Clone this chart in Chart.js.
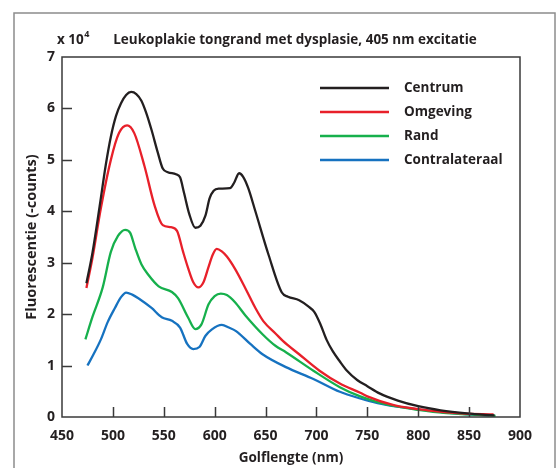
<!DOCTYPE html>
<html>
<head>
<meta charset="utf-8">
<script src="https://cdn.jsdelivr.net/npm/chart.js@4.4.0/dist/chart.umd.min.js"></script>
<style>
  html, body { margin: 0; padding: 0; background: #fff; }
  #wrap { position: relative; width: 558px; height: 468px; }
</style>
</head>
<body>
<div id="wrap"><canvas id="spectrum" width="558" height="468"></canvas></div>
<script>
// golflengte (nm) + fluorescentie (x 10^4 counts)
const centrumNm  = [474, 480, 487, 493, 498, 503, 508, 513, 518, 523, 528, 533, 538, 544, 549, 554, 562, 566, 570, 575, 581, 586, 591, 595, 599, 604, 615, 619, 624, 628, 633, 640, 653, 666, 672, 683, 692, 698, 704, 710, 716, 723, 730, 740, 750, 762, 780, 800, 822, 848, 875];
const centrumVal = [2.60, 3.20, 4.10, 4.90, 5.45, 5.85, 6.10, 6.26, 6.32, 6.28, 6.15, 5.90, 5.58, 5.15, 4.83, 4.76, 4.72, 4.66, 4.35, 3.95, 3.68, 3.72, 3.92, 4.25, 4.40, 4.44, 4.45, 4.55, 4.74, 4.67, 4.45, 4.00, 3.15, 2.42, 2.34, 2.27, 2.15, 2.04, 1.80, 1.50, 1.28, 1.08, 0.90, 0.72, 0.60, 0.46, 0.32, 0.21, 0.13, 0.07, 0.03];

const omgevingNm  = [474, 480, 488, 498, 506, 514, 521, 531, 541, 549, 557, 563, 569, 574, 579, 584, 589, 594, 598, 602, 607, 612, 620, 630, 640, 648, 660, 667, 683, 703, 723, 743, 750, 776, 809, 842, 874];
const omgevingVal = [2.51, 3.10, 4.04, 5.00, 5.52, 5.67, 5.52, 4.88, 4.11, 3.73, 3.69, 3.62, 3.21, 2.89, 2.62, 2.52, 2.62, 2.92, 3.15, 3.27, 3.22, 3.12, 2.88, 2.51, 2.12, 1.86, 1.62, 1.48, 1.22, 0.90, 0.65, 0.47, 0.40, 0.23, 0.13, 0.07, 0.05];

const randNm  = [473, 480, 490, 498, 505, 512, 517, 522, 528, 535, 545, 558, 564, 574, 581, 587, 594, 600, 606, 612, 620, 630, 647, 660, 670, 697, 723, 743, 760, 780, 800, 825, 850, 876];
const randVal = [1.51, 1.95, 2.52, 3.21, 3.52, 3.64, 3.58, 3.28, 2.97, 2.76, 2.54, 2.43, 2.31, 1.93, 1.71, 1.80, 2.19, 2.35, 2.40, 2.37, 2.23, 1.98, 1.61, 1.38, 1.26, 0.90, 0.58, 0.40, 0.29, 0.20, 0.14, 0.08, 0.05, 0.02];

const contraNm  = [475, 481, 488, 495, 502, 508, 513, 519, 525, 538, 548, 558, 566, 573, 579, 585, 591, 597, 607, 614, 621, 635, 647, 670, 697, 723, 743, 760, 780, 800, 825, 850, 870];
const contraVal = [1.00, 1.22, 1.50, 1.85, 2.12, 2.33, 2.42, 2.38, 2.31, 2.12, 1.94, 1.87, 1.74, 1.42, 1.32, 1.36, 1.58, 1.70, 1.79, 1.74, 1.67, 1.42, 1.22, 0.97, 0.74, 0.49, 0.36, 0.27, 0.20, 0.15, 0.09, 0.05, 0.03];

const seriesNames  = ['Centrum', 'Omgeving', 'Rand', 'Contralateraal'];
const seriesColors = ['#231f20', '#e8202a', '#16b04c', '#1672c0'];

const xTickMarks = [500, 550, 600, 650, 700, 750, 800, 850];
const yTickMarks = [1, 2, 3, 4, 5, 6];

const FONT = "'Open Sans', 'Liberation Sans', sans-serif";

function toPoints(nm, val) {
  return nm.map((x, i) => ({ x, y: val[i] }));
}

// kader, binnenticks, legenda en titel
const decor = {
  id: 'decor',
  beforeDraw(chart) {
    const ctx = chart.ctx;
    ctx.save();
    ctx.fillStyle = '#fff';
    ctx.fillRect(0, 0, chart.width, chart.height);
    ctx.strokeStyle = '#8c8c8c';
    ctx.lineWidth = 1.5;
    ctx.strokeRect(14, 13, 541, 480);
    ctx.restore();
  },
  afterDatasetsDraw(chart) {
    const { ctx, chartArea: a, scales: { x, y } } = chart;
    ctx.save();
    ctx.strokeStyle = '#3a3a3a';
    ctx.lineWidth = 1.5;
    ctx.strokeRect(a.left, a.top, a.right - a.left, a.bottom - a.top);
    ctx.beginPath();
    xTickMarks.forEach(v => {
      const px = Math.round(x.getPixelForValue(v)) + 0.5;
      ctx.moveTo(px, a.bottom);
      ctx.lineTo(px, a.bottom - 10);
    });
    yTickMarks.forEach(v => {
      const py = Math.round(y.getPixelForValue(v)) + 0.5;
      ctx.moveTo(a.left, py);
      ctx.lineTo(a.left + 10, py);
    });
    ctx.stroke();

    // legenda
    ctx.font = `bold 13.5px ${FONT}`;
    ctx.textBaseline = 'middle';
    ctx.fillStyle = '#231f20';
    chart.data.datasets.forEach((ds, i) => {
      const ly = 88 + i * 24;
      ctx.strokeStyle = ds.borderColor;
      ctx.lineWidth = 2.6;
      ctx.beginPath();
      ctx.moveTo(320, ly);
      ctx.lineTo(389, ly);
      ctx.stroke();
      ctx.fillText(ds.label, 404, ly);
    });

    // titel
    ctx.textBaseline = 'alphabetic';
    ctx.font = `bold 13.5px ${FONT}`;
    ctx.textAlign = 'left';
    ctx.fillText('x 10', 57, 43.5);
    const w = ctx.measureText('x 10').width;
    ctx.font = `bold 9px ${FONT}`;
    ctx.fillText('4', 57 + w + 0.5, 37);
    ctx.font = `bold 13.5px ${FONT}`;
    ctx.textAlign = 'center';
    ctx.fillText('Leukoplakie tongrand met dysplasie, 405 nm excitatie', 295, 43.5);
    ctx.restore();
  }
};

const allNm  = [centrumNm, omgevingNm, randNm, contraNm];
const allVal = [centrumVal, omgevingVal, randVal, contraVal];

new Chart(document.getElementById('spectrum'), {
  type: 'line',
  data: {
    datasets: seriesNames.map((name, i) => ({
      label: name,
      data: toPoints(allNm[i], allVal[i]),
      borderColor: seriesColors[i],
      borderWidth: 2.3,
      pointRadius: 0,
      fill: false,
      cubicInterpolationMode: 'monotone'
    }))
  },
  options: {
    responsive: false,
    animation: false,
    devicePixelRatio: 1,
    layout: { padding: { top: 57, right: 38, left: 0, bottom: 0 } },
    plugins: {
      legend: { display: false },
      tooltip: { enabled: false }
    },
    scales: {
      x: {
        type: 'linear',
        min: 450,
        max: 900,
        grid: { display: false, drawTicks: false },
        border: { display: false },
        ticks: {
          stepSize: 50,
          padding: 11,
          color: '#231f20',
          font: { family: FONT, size: 14, weight: 'bold' }
        },
        title: {
          display: true,
          text: 'Golflengte (nm)',
          color: '#231f20',
          font: { family: FONT, size: 13.5, weight: 'bold' },
          padding: { top: 0, bottom: 2 }
        },
        afterFit: s => { s.height = 51; }
      },
      y: {
        min: 0,
        max: 7,
        grid: { display: false, drawTicks: false },
        border: { display: false },
        ticks: {
          stepSize: 1,
          padding: 7,
          color: '#231f20',
          font: { family: FONT, size: 14, weight: 'bold' }
        },
        title: {
          display: true,
          text: 'Fluorescentie (-counts)',
          color: '#231f20',
          font: { family: FONT, size: 14.5, weight: 'bold' },
          padding: { top: 23, bottom: 0 }
        },
        afterFit: s => { s.width = 62; }
      }
    }
  },
  plugins: [decor]
});
</script>
</body>
</html>
